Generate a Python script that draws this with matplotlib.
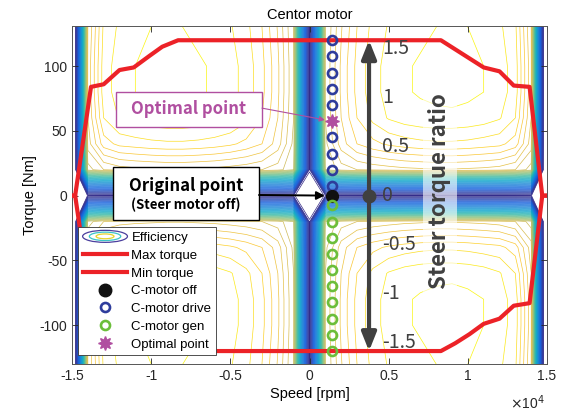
import numpy as np
import matplotlib
matplotlib.use("Agg")
import matplotlib.pyplot as plt
from matplotlib.colors import LinearSegmentedColormap, PowerNorm
from matplotlib.legend_handler import HandlerBase
from matplotlib.patches import Ellipse, Rectangle, Patch

plt.rcParams['font.family'] = ['Liberation Sans', 'DejaVu Sans']
plt.rcParams['axes.unicode_minus'] = False

# efficiency map, one quadrant (speed >= 0, torque >= 0), map is symmetric
quad_speed = np.arange(0, 15001, 1000)
quad_torque = np.arange(0, 141, 20)
eff_quad = np.array([
    # 0    1k     2k     3k     4k     5k     6k     7k     8k     9k     10k    11k    12k    13k    14k    15k
    [0.45, 0.510, 0.510, 0.510, 0.510, 0.510, 0.510, 0.510, 0.510, 0.510, 0.510, 0.510, 0.510, 0.510, 0.510, 0.30],
    [0.51, 0.855, 0.870, 0.875, 0.878, 0.880, 0.882, 0.883, 0.884, 0.884, 0.883, 0.882, 0.880, 0.875, 0.860, 0.40],
    [0.51, 0.862, 0.890, 0.905, 0.912, 0.917, 0.920, 0.922, 0.923, 0.923, 0.922, 0.920, 0.918, 0.910, 0.880, 0.40],
    [0.51, 0.865, 0.895, 0.915, 0.928, 0.936, 0.940, 0.942, 0.943, 0.943, 0.942, 0.940, 0.936, 0.925, 0.885, 0.40],
    [0.51, 0.866, 0.897, 0.918, 0.931, 0.939, 0.944, 0.946, 0.947, 0.948, 0.947, 0.945, 0.940, 0.930, 0.888, 0.40],
    [0.51, 0.866, 0.897, 0.918, 0.931, 0.939, 0.944, 0.946, 0.949, 0.952, 0.949, 0.945, 0.940, 0.930, 0.888, 0.40],
    [0.51, 0.865, 0.895, 0.916, 0.929, 0.937, 0.942, 0.944, 0.946, 0.9485, 0.946, 0.943, 0.938, 0.928, 0.886, 0.40],
    [0.51, 0.864, 0.893, 0.914, 0.927, 0.935, 0.940, 0.942, 0.944, 0.946, 0.944, 0.941, 0.936, 0.926, 0.884, 0.40],
])

# torque limits
lim_speed = [-15000, -14800, -13800, -13000, -12000, -11100, -10100, -9300, -8300,
             8300, 9200, 10100, 11000, 12000, 12900, 13900, 14700, 15000]
max_torque = [0, 0, 84, 86, 97, 99, 108, 115, 120, 120, 113, 106, 99, 96, 85, 84, 0, 0]
min_torque = [0, 0, -84, -86, -97, -99, -108, -115, -120, -120, -114, -107, -99, -95, -85, -83, 0, 0]

# C-motor operating points
cmotor_speed = 1400
drive_torque = [120, 107.5, 95, 82.5, 70, 45, 32.5, 20, 7.5]
gen_torque = [-7.5, -20, -32.5, -45, -57.5, -70, -82.5, -95, -107.5, -120]
off_torque = [0]
opt_torque = [57.5]

# steer torque ratio axis
ratio_speed = 3760
ratio_ticks = [1.5, 1, 0.5, 0, -0.5, -1, -1.5]
ratio_scale = 75.5   # Nm per unit ratio
ratio_range = [-120, 120]

xticks = [-15000, -10000, -5000, 0, 5000, 10000, 15000]
xticklabels = ['-1.5', '-1', '-0.5', '0', '0.5', '1', '1.5']
yticks = [-100, -50, 0, 50, 100]

# full map by mirroring the quadrant
speed = np.concatenate([-quad_speed[:0:-1], quad_speed])
torque = np.concatenate([-quad_torque[:0:-1], quad_torque])
eff = np.vstack([eff_quad[:0:-1], eff_quad])
eff = np.hstack([eff[:, :0:-1], eff])

parula = LinearSegmentedColormap.from_list('parula', [
    (0.0, '#352A87'), (0.125, '#0F5CDD'), (0.25, '#1481D6'), (0.375, '#06A4CA'),
    (0.5, '#2EB7A4'), (0.625, '#87BF77'), (0.75, '#D1BB59'), (0.875, '#FEC832'),
    (1.0, '#F9FB0E')])

red = '#EC2227'
blue = '#2E3C9C'
green = '#6BBE3A'
purple = '#B04FA0'
dgray = '#404040'
kfont = ['Noto Sans CJK KR', 'DejaVu Sans']


class EllipseHandler(HandlerBase):
    def create_artists(self, legend, orig_handle, xdescent, ydescent,
                       width, height, fontsize, trans):
        cx = width / 2 - xdescent
        cy = height / 2 - ydescent
        out = []
        for f, c in [(1.0, '#4B3F9E'), (0.7, '#3BC4C8'), (0.4, '#E6D52C')]:
            out.append(Ellipse((cx, cy), width * f, height * 1.3 * f, fill=False,
                               edgecolor=c, lw=0.9, transform=trans))
        return out


fig = plt.figure(figsize=(5.63, 4.11), dpi=100)
ax = fig.add_axes([72 / 563, 1 - 364 / 411, 475 / 563, 338 / 411])

levels = np.round(np.arange(0.505, 0.955, 0.01), 3)
ax.contour(speed, torque, eff, levels=levels, cmap=parula,
           norm=PowerNorm(1.4, vmin=0.505, vmax=0.95), linewidths=0.5, zorder=1)

ax.plot(lim_speed, max_torque, color=red, lw=3, zorder=3)
ax.plot(lim_speed, min_torque, color=red, lw=3, zorder=3)

ax.plot([cmotor_speed] * len(drive_torque), drive_torque, 'o', ms=6.5, mfc='none',
        mec=blue, mew=1.9, zorder=4)
ax.plot([cmotor_speed] * len(off_torque), off_torque, 'o', ms=8.5, color='#111111', zorder=5)
ax.plot([cmotor_speed] * len(gen_torque), gen_torque, 'o', ms=6.5, mfc='none',
        mec=green, mew=1.9, zorder=6)
ax.plot([cmotor_speed] * len(opt_torque), opt_torque, marker=(8, 1, 0), ls='none',
        ms=10, color=purple, zorder=6)

# steer torque ratio arrow
ax.annotate('', xy=(ratio_speed, ratio_range[1]), xytext=(ratio_speed, ratio_range[0]),
            arrowprops=dict(arrowstyle='<|-|>,head_length=0.55,head_width=0.22',
                            mutation_scale=20, lw=3, color=dgray, shrinkA=0, shrinkB=0),
            zorder=6)
ax.plot([ratio_speed], [0], 'o', ms=9, color=dgray, zorder=7)
for r in ratio_ticks:
    ax.text(ratio_speed + 830, r * ratio_scale, '{:g}'.format(r), ha='left', va='center',
            fontsize=14, color=dgray, family=kfont, zorder=7)
ax.text(8220, 3.5, 'Steer torque ratio', rotation=90, ha='center', va='center',
        fontsize=16, fontweight='bold', color=dgray, family=kfont, zorder=7,
        bbox=dict(boxstyle='square,pad=0.25', fc='white', ec='none', alpha=0.6))

# optimal point callout
ax.add_patch(Rectangle((0.0926, 0.701), 0.3074, 0.104, transform=ax.transAxes,
                       fc='white', ec=purple, lw=1, zorder=8))
ax.text(0.246, 0.753, 'Optimal point', transform=ax.transAxes, ha='center', va='center',
        fontsize=12, fontweight='bold', color=purple, family=kfont, zorder=9)
ax.annotate('', xy=(cmotor_speed, opt_torque[0]), xycoords='data',
            xytext=(0.4, 0.757), textcoords='axes fraction',
            arrowprops=dict(arrowstyle='-|>', color=purple, lw=0.8, shrinkA=0, shrinkB=5,
                            mutation_scale=8), zorder=8)

# original point callout
ax.add_patch(Rectangle((0.0863, 0.426), 0.3074, 0.157, transform=ax.transAxes,
                       fc='white', ec='black', lw=1, zorder=8))
ax.text(0.24, 0.526, 'Original point', transform=ax.transAxes, ha='center', va='center',
        fontsize=12, fontweight='bold', color='black', family=kfont, zorder=9)
ax.text(0.24, 0.470, '(Steer motor off)', transform=ax.transAxes, ha='center', va='center',
        fontsize=9.5, fontweight='bold', color='black', family=kfont, zorder=9)
ax.annotate('', xy=(cmotor_speed, off_torque[0]), xycoords='data',
            xytext=(0.3937, 0.5), textcoords='axes fraction',
            arrowprops=dict(arrowstyle='-|>', color='black', lw=1.4, shrinkA=0, shrinkB=5,
                            mutation_scale=12), zorder=8)

# legend
h_eff = Patch(label='Efficiency')
handles = [
    h_eff,
    plt.Line2D([], [], color=red, lw=3, label='Max torque'),
    plt.Line2D([], [], color=red, lw=3, label='Min torque'),
    plt.Line2D([], [], marker='o', ls='none', ms=9, color='#111111', label='C-motor off'),
    plt.Line2D([], [], marker='o', ls='none', ms=6.5, mfc='none', mec=blue, mew=1.9,
               label='C-motor drive'),
    plt.Line2D([], [], marker='o', ls='none', ms=6.5, mfc='none', mec=green, mew=1.9,
               label='C-motor gen'),
    plt.Line2D([], [], marker=(8, 1, 0), ls='none', ms=10, color=purple, label='Optimal point'),
]
leg = ax.legend(handles=handles, handler_map={h_eff: EllipseHandler()}, loc='upper left',
                bbox_to_anchor=(0.0126, 0.405), borderaxespad=0, fontsize=9.5,
                handlelength=3.4, labelspacing=0.42, handletextpad=0.3, borderpad=0.35,
                fancybox=False, edgecolor='#333333', framealpha=1)
leg.get_frame().set_linewidth(0.6)
leg.set_zorder(10)

ax.set_xlim(-15000, 15000)
ax.set_ylim(-130, 131)
ax.set_xticks(xticks)
ax.set_xticklabels(xticklabels)
ax.set_yticks(yticks)
ax.tick_params(direction='in', top=True, right=True, length=4, width=0.6,
               colors='#262626', labelsize=10)
for s in ax.spines.values():
    s.set_color('#555555')
    s.set_linewidth(0.7)
ax.set_title('Centor motor', fontsize=10.5, pad=5)
ax.set_xlabel('Speed [rpm]', fontsize=10.5, labelpad=3)
ax.set_ylabel('Torque [Nm]', fontsize=10.5, labelpad=2)
fig.text(545 / 563, 1 - 403 / 411, r'$\times$10$^4$', ha='right', va='center', fontsize=10,
         color='#262626')

fig.savefig('out.png', dpi=100)
